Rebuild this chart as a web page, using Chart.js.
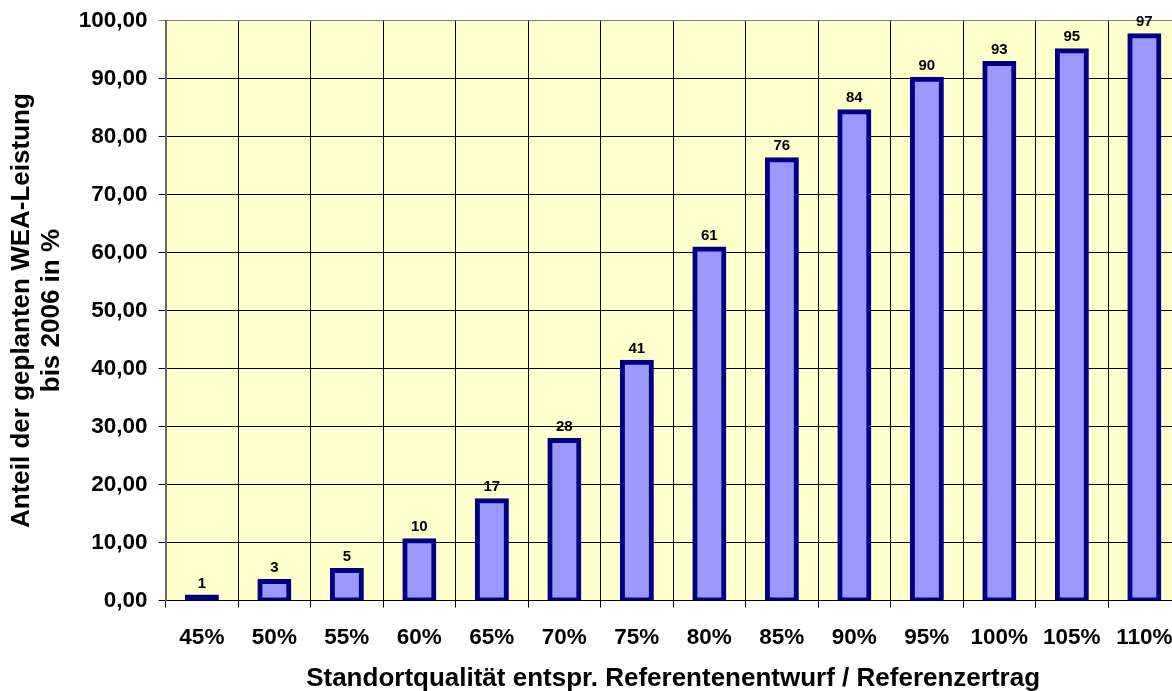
<!DOCTYPE html>
<html>
<head>
<meta charset="utf-8">
<script src="https://cdn.jsdelivr.net/npm/chart.js@4.4.1/dist/chart.umd.min.js"></script>
<style>
  html, body { margin: 0; padding: 0; overflow: hidden; background: #fff; }
  canvas { display: block; }
</style>
</head>
<body>
<canvas id="chart" width="1189" height="691" style="width:1189px;height:691px"></canvas>
<script>
// data
const categories = ["45%", "50%", "55%", "60%", "65%", "70%", "75%", "80%", "85%", "90%", "95%", "100%", "105%", "110%"];
const shares = [0.6, 3.3, 5.2, 10.3, 17.2, 27.6, 41.1, 60.6, 76.0, 84.3, 89.9, 92.6, 94.8, 97.4];
const yTitle = ["Anteil der geplanten WEA-Leistung", "bis 2006 in %"];
const xTitle = "Standortqualität entspr. Referentenentwurf / Referenzertrag";

const FONT = "'Liberation Sans', Arial, sans-serif";

// yellow plot background
const plotBackground = {
  id: "plotBackground",
  beforeDraw(chart) {
    const { ctx, chartArea: a } = chart;
    ctx.save();
    ctx.fillStyle = "#FFFFCC";
    ctx.fillRect(a.left, a.top, a.right - a.left, a.bottom - a.top);
    ctx.restore();
  }
};

// rounded value above each bar
const valueLabels = {
  id: "valueLabels",
  afterDatasetsDraw(chart) {
    const { ctx } = chart;
    const meta = chart.getDatasetMeta(0);
    ctx.save();
    ctx.font = "bold 15px " + FONT;
    ctx.fillStyle = "#000";
    ctx.textAlign = "center";
    ctx.textBaseline = "alphabetic";
    meta.data.forEach((bar, i) => {
      ctx.fillText(String(Math.round(shares[i])), bar.x, bar.y - 9.5);
    });
    ctx.restore();
  }
};

new Chart(document.getElementById("chart"), {
  type: "bar",
  data: {
    labels: categories,
    datasets: [{
      data: shares,
      // very short bars are all outline in the original
      backgroundColor: (c) => (c.raw < 1 ? "#000080" : "#9999FF"),
      borderColor: "#000080",
      borderWidth: 5,
      borderSkipped: false,
      inflateAmount: 2.5,
      barPercentage: 0.40,
      categoryPercentage: 1.0,
    }],
  },
  options: {
    responsive: false,
    devicePixelRatio: 1,
    animation: false,
    layout: { padding: { top: 20, left: 0, right: 0, bottom: 0 } },
    plugins: {
      legend: { display: false },
      tooltip: { enabled: false },
    },
    scales: {
      x: {
        offset: true,
        grid: { offset: true, color: "#000", lineWidth: 1, tickLength: 7 },
        border: { color: "#000", width: 1 },
        ticks: { color: "#000", padding: 16.5, font: { family: FONT, size: 22.5, weight: "bold" } },
        title: {
          display: true,
          text: xTitle,
          color: "#000",
          font: { family: FONT, size: 26, weight: "bold", lineHeight: 0.9 },
          padding: { top: 0, bottom: 0 },
        },
      },
      y: {
        min: 0,
        max: 100,
        grid: {
          color: (c) => (c.tick && c.tick.value === 100 ? "#808080" : "#000"),
          lineWidth: 1,
          tickLength: 7,
        },
        border: { color: "#666", width: 2 },
        ticks: {
          stepSize: 10,
          color: "#000",
          padding: 11,
          font: { family: FONT, size: 22.5, weight: "bold", lineHeight: 0.85 },
          callback: (v) => Number(v).toFixed(2).replace(".", ","),
        },
        title: {
          display: true,
          text: yTitle,
          color: "#000",
          font: { family: FONT, size: 26, weight: "bold", lineHeight: 1.15 },
          padding: { top: 7, bottom: 1 },
        },
      },
    },
  },
  plugins: [plotBackground, valueLabels],
});
</script>
</body>
</html>
